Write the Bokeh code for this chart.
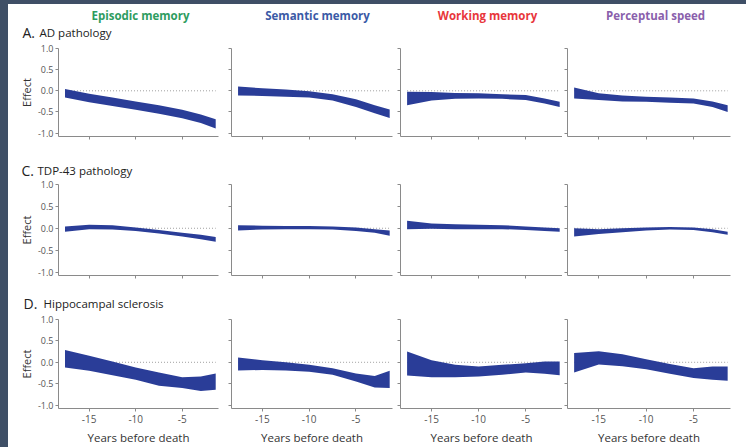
from bokeh.plotting import figure
from bokeh.layouts import column, row
from bokeh.models import Range1d, FixedTicker
from bokeh.core.properties import value
from bokeh.embed import file_html
from bokeh.resources import INLINE

# ---------------- data ----------------
years = [-17.6, -15, -12.5, -10, -7.5, -5, -3, -1.4]

domains = ["Episodic memory", "Semantic memory", "Working memory", "Perceptual speed"]
domain_colors = ["#2e9c5f", "#3b5aa6", "#e8363c", "#8a5fac"]
row_letters = ["A.", "C.", "D."]
row_names = ["AD pathology", "TDP-43 pathology", "Hippocampal sclerosis"]

x_ticks = [-15, -10, -5]
x_tick_labels = ["-15", "-10", "-5"]
y_ticks = [-1.0, -0.5, 0.0, 0.5, 1.0]
y_tick_labels = ["-1.0", "-0.5", "0.0", "0.5", "1.0"]

# AD pathology
ad_episodic_upper = [0.04, -0.07, -0.16, -0.25, -0.34, -0.45, -0.56, -0.67]
ad_episodic_lower = [-0.16, -0.27, -0.36, -0.45, -0.54, -0.65, -0.76, -0.89]
ad_semantic_upper = [0.10, 0.06, 0.03, -0.01, -0.08, -0.20, -0.34, -0.44]
ad_semantic_lower = [-0.11, -0.12, -0.14, -0.16, -0.23, -0.38, -0.53, -0.64]
ad_working_upper = [-0.02, -0.03, -0.05, -0.06, -0.08, -0.10, -0.18, -0.26]
ad_working_lower = [-0.34, -0.23, -0.19, -0.18, -0.19, -0.22, -0.30, -0.38]
ad_speed_upper = [0.08, -0.06, -0.11, -0.14, -0.16, -0.18, -0.25, -0.34]
ad_speed_lower = [-0.18, -0.22, -0.25, -0.26, -0.28, -0.30, -0.38, -0.50]

# TDP-43 pathology
tdp_episodic_upper = [0.04, 0.08, 0.07, 0.02, -0.04, -0.10, -0.15, -0.20]
tdp_episodic_lower = [-0.08, -0.02, -0.03, -0.06, -0.12, -0.19, -0.25, -0.31]
tdp_semantic_upper = [0.07, 0.06, 0.05, 0.05, 0.04, 0.02, -0.02, -0.05]
tdp_semantic_lower = [-0.05, -0.03, -0.02, -0.02, -0.03, -0.06, -0.10, -0.17]
tdp_working_upper = [0.17, 0.11, 0.09, 0.08, 0.07, 0.04, 0.02, 0.00]
tdp_working_lower = [-0.02, -0.01, -0.02, -0.02, -0.02, -0.04, -0.06, -0.08]
tdp_speed_upper = [0.00, -0.02, 0.00, 0.015, 0.03, 0.02, -0.02, -0.08]
tdp_speed_lower = [-0.19, -0.13, -0.09, -0.05, -0.03, -0.04, -0.09, -0.15]

# Hippocampal sclerosis
hs_episodic_upper = [0.29, 0.15, 0.02, -0.12, -0.24, -0.35, -0.33, -0.26]
hs_episodic_lower = [-0.12, -0.20, -0.30, -0.41, -0.55, -0.60, -0.67, -0.64]
hs_semantic_upper = [0.11, 0.05, 0.00, -0.06, -0.14, -0.26, -0.32, -0.20]
hs_semantic_lower = [-0.19, -0.18, -0.19, -0.22, -0.29, -0.45, -0.59, -0.60]
hs_working_upper = [0.25, 0.05, -0.06, -0.10, -0.06, -0.02, 0.02, 0.02]
hs_working_lower = [-0.31, -0.35, -0.35, -0.33, -0.29, -0.24, -0.27, -0.30]
hs_speed_upper = [0.22, 0.26, 0.19, 0.07, -0.04, -0.14, -0.10, -0.10]
hs_speed_lower = [-0.24, -0.05, -0.09, -0.16, -0.27, -0.37, -0.41, -0.43]

bands = [
    [(ad_episodic_lower, ad_episodic_upper), (ad_semantic_lower, ad_semantic_upper),
     (ad_working_lower, ad_working_upper), (ad_speed_lower, ad_speed_upper)],
    [(tdp_episodic_lower, tdp_episodic_upper), (tdp_semantic_lower, tdp_semantic_upper),
     (tdp_working_lower, tdp_working_upper), (tdp_speed_lower, tdp_speed_upper)],
    [(hs_episodic_lower, hs_episodic_upper), (hs_semantic_lower, hs_semantic_upper),
     (hs_working_lower, hs_working_upper), (hs_speed_lower, hs_speed_upper)],
]

# ---------------- style / layout ----------------
FONT = "Open Sans"
BAND = "#2a3d98"
AXIS = "#8a8a8a"
TICKTXT = "#555555"
FRAME_BG = "#3f4f66"
INNER_W = 738

X0, X1 = -18.3, -1.1
Y0, Y1 = -1.08, 1.0

col_widths = [218, 169, 167, 184]
col_border_left = [50, 5, 5, 5]
col_border_right = [8, 3, 0, 16]

header_heights = [38, 35, 31]
row_heights = [102, 104, 133]
row_border_top = [6, 5, 5]
row_border_bottom = [8, 8, 39]

# text positions inside the header strips (pixels from the strip's top-left)
TITLE_FS, LETTER_FS, NAME_FS = 11.5, 14.0, 11.5
title_x_px = [132, 309, 479, 647]
title_baseline_px = 15
letter_x_px = [14, 13, 15]
name_x_px = [31, 29, 35]
rowlabel_baseline_px = [32, 30, 24]
MID = 0.32  # distance from baseline to text middle, in ems


def make_header(r):
    h = header_heights[r]
    p = figure(width=INNER_W, height=h, x_range=Range1d(0, INNER_W), y_range=Range1d(h, 0),
               output_backend="svg", toolbar_location=None, title=None,
               x_axis_type=None, y_axis_type=None,
               min_border_left=0, min_border_right=0, min_border_top=0, min_border_bottom=0)
    p.outline_line_color = None
    p.grid.visible = False
    p.background_fill_color = "white"
    p.border_fill_color = "white"
    if r == 0:
        for c in range(4):
            p.text(x=[title_x_px[c]], y=[title_baseline_px - MID * TITLE_FS], text=[domains[c]],
                   text_align="center", text_baseline="middle",
                   text_font=value(FONT), text_font_style="bold",
                   text_font_size=f"{TITLE_FS}px", text_color=domain_colors[c])
    p.text(x=[letter_x_px[r]], y=[rowlabel_baseline_px[r] - MID * LETTER_FS], text=[row_letters[r]],
           text_align="left", text_baseline="middle",
           text_font=value(FONT), text_font_size=f"{LETTER_FS}px", text_color="#222222")
    p.text(x=[name_x_px[r]], y=[rowlabel_baseline_px[r] - MID * NAME_FS], text=[row_names[r]],
           text_align="left", text_baseline="middle",
           text_font=value(FONT), text_font_size=f"{NAME_FS}px", text_color="#222222")
    return p


def make_panel(r, c):
    w, h = col_widths[c], row_heights[r]
    bl, br = col_border_left[c], col_border_right[c]
    bt, bb = row_border_top[r], row_border_bottom[r]

    p = figure(width=w, height=h, x_range=Range1d(X0, X1), y_range=Range1d(Y0, Y1),
               output_backend="svg", toolbar_location=None,
               min_border_left=bl, min_border_right=br,
               min_border_top=bt, min_border_bottom=bb)
    p.outline_line_color = None
    p.grid.visible = False
    p.background_fill_color = "white"
    p.border_fill_color = "white"

    # zero reference line (dotted), drawn under the band
    p.line(x=[years[0], years[-1]], y=[0, 0], line_color="#a0a0a0",
           line_width=1, line_dash="1 2")
    lower, upper = bands[r][c]
    p.varea(x=years, y1=lower, y2=upper, fill_color=BAND)

    for ax in (p.xaxis, p.yaxis):
        ax.axis_line_color = AXIS
        ax.major_tick_line_color = AXIS
        ax.minor_tick_line_color = None
        ax.major_tick_in = 0
        ax.major_tick_out = 3
        ax.major_label_text_font = FONT
        ax.major_label_text_color = TICKTXT
        ax.major_label_text_font_size = "9px"

    p.xaxis.ticker = FixedTicker(ticks=x_ticks)
    p.yaxis.ticker = FixedTicker(ticks=y_ticks)

    if r == 2:
        p.xaxis.major_label_overrides = dict(zip(x_ticks, x_tick_labels))
        p.xaxis.major_label_text_font_size = "10px"
        p.xaxis.major_label_standoff = 3
        p.xaxis.axis_label = "Years before death"
        p.xaxis.axis_label_text_font = FONT
        p.xaxis.axis_label_text_font_style = "normal"
        p.xaxis.axis_label_text_font_size = "11.5px"
        p.xaxis.axis_label_text_color = "#333333"
        p.xaxis.axis_label_standoff = 4
    else:
        p.xaxis.major_label_overrides = {t: "" for t in x_ticks}
        p.xaxis.major_label_standoff = 0

    if c == 0:
        p.yaxis.major_label_overrides = dict(zip(y_ticks, y_tick_labels))
        p.yaxis.major_label_standoff = 2
        p.yaxis.axis_label = "Effect"
        p.yaxis.axis_label_text_font = FONT
        p.yaxis.axis_label_text_font_style = "normal"
        p.yaxis.axis_label_text_font_size = "11px"
        p.yaxis.axis_label_text_color = "#333333"
        p.yaxis.axis_label_standoff = 1
    else:
        p.yaxis.major_label_overrides = {t: "" for t in y_ticks}
        p.yaxis.major_label_standoff = 0
    return p


blocks = []
for r in range(3):
    blocks.append(make_header(r))
    blocks.append(row(*[make_panel(r, c) for c in range(4)],
                      styles={"background-color": "white"}))
grid = column(*blocks, margin=(4, 0, 0, 8), styles={"background-color": "white"})
page = column(grid, styles={"background-color": FRAME_BG})

open("out.html", "w").write(file_html(page, INLINE))
